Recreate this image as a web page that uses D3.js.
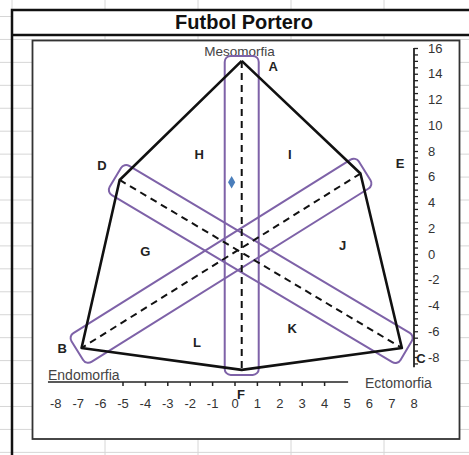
<!DOCTYPE html>
<html><head><meta charset="utf-8">
<script src="https://cdn.jsdelivr.net/npm/d3@7"></script>
<style>
body{margin:0;background:#fff}
svg{display:block}
text{font-family:"Liberation Sans",Arial,sans-serif}
</style>
</head><body>
<svg id="chart" width="469" height="455"></svg>
<script>
// Somatochart of the goalkeeper group
const title = "Futbol Portero";
const vertexNames = ["A", "E", "C", "F", "B", "D"];
const vertexX = [0.3, 5.6, 7.45, 0.3, -6.85, -5.15];
const vertexY = [15, 6.25, -7.3, -9, -7.3, 5.75];
const vertexLabelX = [1.7, 7.37, 8.3, 0.27, -7.72, -5.94];
const vertexLabelY = [14.55, 7.07, -8.15, -10.9, -7.3, 6.9];
// each somatotype axis joins two opposite vertices
const axisFrom = ["A", "D", "E"];
const axisTo = ["F", "C", "B"];
const regionNames = ["G", "H", "I", "J", "K", "L"];
const regionX = [-4.0, -1.6, 2.45, 4.8, 2.55, -1.7];
const regionY = [0.2, 7.7, 7.7, 0.7, -5.75, -6.9];
const pointX = [-0.15];
const pointY = [5.57];
const xTickLabels = [-8, -7, -6, -5, -4, -3, -2, -1, 0, 1, 2, 3, 4, 5, 6, 7, 8];
const xTickMarks = [-5, -4, -3, -2, -1, 0, 1, 2, 3, 4];
const xAxisExtent = [-8.35, 5.05];
const yTickLabels = [16, 14, 12, 10, 8, 6, 4, 2, 0, -2, -4, -6, -8];
const yAxisExtent = [-8.8, 16];
const axisTitles = ["Mesomorfia", "Endomorfia", "Ectomorfia"];

const svg = d3.select("#chart");
const W = 469, H = 455;

const x = d3.scaleLinear().domain([-8, 8]).range([55.8, 414.2]);
const y = d3.scaleLinear().domain([-8, 16]).range([357, 48]);

// sheet grid behind the chart
const grid = svg.append("g").attr("stroke", "#d6d6d6").attr("stroke-width", 1);
d3.range(16.5, H, 22.94).forEach(v => grid.append("line").attr("x1", 0).attr("x2", W).attr("y1", v).attr("y2", v));
d3.range(12, W, 93).forEach(v => grid.append("line").attr("x1", v).attr("x2", v).attr("y1", 0).attr("y2", H));

// chart frame and title band
svg.append("rect").attr("x", 12).attr("y", 10).attr("width", W).attr("height", 25)
  .attr("fill", "#fff");
svg.append("path").attr("d", `M12,${H} V10 H${W + 5} M12,35 H${W + 5}`)
  .attr("fill", "none").attr("stroke", "#111").attr("stroke-width", 2.5);
svg.append("text").attr("x", 244).attr("y", 29).attr("text-anchor", "middle")
  .attr("font-size", 20).attr("font-weight", "bold").attr("fill", "#111").text(title);

// plot area
svg.append("rect").attr("x", 32.5).attr("y", 40.5).attr("width", 427).attr("height", 398.5)
  .attr("fill", "#fff").attr("stroke", "#333").attr("stroke-width", 1.8);

// axis titles
svg.append("text").attr("x", x(0.2)).attr("y", 56).attr("text-anchor", "middle")
  .attr("font-size", 13.5).attr("fill", "#444").text(axisTitles[0]);
svg.append("text").attr("x", 48).attr("y", 380)
  .attr("font-size", 14).attr("fill", "#444").text(axisTitles[1]);
svg.append("text").attr("x", 365).attr("y", 388)
  .attr("font-size", 14).attr("fill", "#444").text(axisTitles[2]);

const vx = {}, vy = {};
vertexNames.forEach((n, i) => { vx[n] = x(vertexX[i]); vy[n] = y(vertexY[i]); });

// bands around each somatotype axis
const bands = svg.append("g").attr("fill", "none").attr("stroke", "#7e62a8").attr("stroke-width", 2);
axisFrom.forEach((a, i) => {
  const b = axisTo[i];
  const x1 = vx[a], y1 = vy[a], x2 = vx[b], y2 = vy[b];
  const len = Math.hypot(x2 - x1, y2 - y1);
  const ang = Math.atan2(y2 - y1, x2 - x1) * 180 / Math.PI;
  const ext = 5, w = 34;
  bands.append("rect")
    .attr("x", -len / 2 - ext).attr("y", -w / 2)
    .attr("width", len + 2 * ext).attr("height", w)
    .attr("rx", 6).attr("ry", 6)
    .attr("transform", `translate(${(x1 + x2) / 2},${(y1 + y2) / 2}) rotate(${ang})`);
});

// dashed axes
axisFrom.forEach((a, i) => {
  const b = axisTo[i];
  svg.append("line").attr("x1", vx[a]).attr("y1", vy[a]).attr("x2", vx[b]).attr("y2", vy[b])
    .attr("stroke", "#111").attr("stroke-width", 2).attr("stroke-dasharray", "7,5");
});

// outline of the somatochart
const outline = d3.line().x(d => vx[d]).y(d => vy[d]);
svg.append("path").attr("d", outline(vertexNames.concat([vertexNames[0]])))
  .attr("fill", "none").attr("stroke", "#111").attr("stroke-width", 2.6).attr("stroke-linejoin", "round");

// vertex and region letters
const letters = svg.append("g").attr("font-size", 13).attr("font-weight", "bold").attr("fill", "#222")
  .attr("text-anchor", "middle");
vertexNames.forEach((n, i) => letters.append("text").attr("x", x(vertexLabelX[i])).attr("y", y(vertexLabelY[i]))
  .attr("dy", "0.35em").text(n));
regionNames.forEach((n, i) => letters.append("text").attr("x", x(regionX[i])).attr("y", y(regionY[i]))
  .attr("dy", "0.35em").text(n));

// somatotype point
svg.selectAll(".pt").data(pointX).join("path").attr("class", "pt")
  .attr("d", d3.symbol(d3.symbolDiamond, 45))
  .attr("transform", (d, i) => `translate(${x(d)},${y(pointY[i])})`)
  .attr("fill", "#4a7ebb");

// horizontal axis
const xAxisY = 382;
const xa = svg.append("g").attr("stroke", "#222").attr("stroke-width", 1.5);
xa.append("line").attr("x1", x(xAxisExtent[0])).attr("x2", x(xAxisExtent[1])).attr("y1", xAxisY).attr("y2", xAxisY);
xTickMarks.forEach(t => xa.append("line").attr("x1", x(t)).attr("x2", x(t)).attr("y1", xAxisY).attr("y2", xAxisY + 4));
svg.append("g").attr("font-size", 13).attr("fill", "#333").attr("text-anchor", "middle")
  .selectAll("text").data(xTickLabels).join("text")
  .attr("x", d => x(d)).attr("y", 403).attr("dy", "0.35em").text(d => d);

// vertical axis
const yAxisX = 414;
const yAxis = d3.axisRight(y).tickValues(d3.range(yAxisExtent[0] + 0.3, 16.01, 0.5)).tickSize(4).tickFormat("");
const ya = svg.append("g").attr("transform", `translate(${yAxisX},0)`).call(yAxis);
ya.select(".domain").remove();
ya.selectAll(".tick line").attr("stroke", "#222").attr("stroke-width", 1.3);
ya.append("line").attr("x1", 0).attr("x2", 0).attr("y1", y(yAxisExtent[1])).attr("y2", y(yAxisExtent[0]))
  .attr("stroke", "#222").attr("stroke-width", 1.8);
svg.append("g").attr("font-size", 13).attr("fill", "#333")
  .selectAll("text").data(yTickLabels).join("text")
  .attr("x", 428).attr("y", d => y(d)).attr("dy", "0.35em").text(d => d);
</script>
</body></html>
